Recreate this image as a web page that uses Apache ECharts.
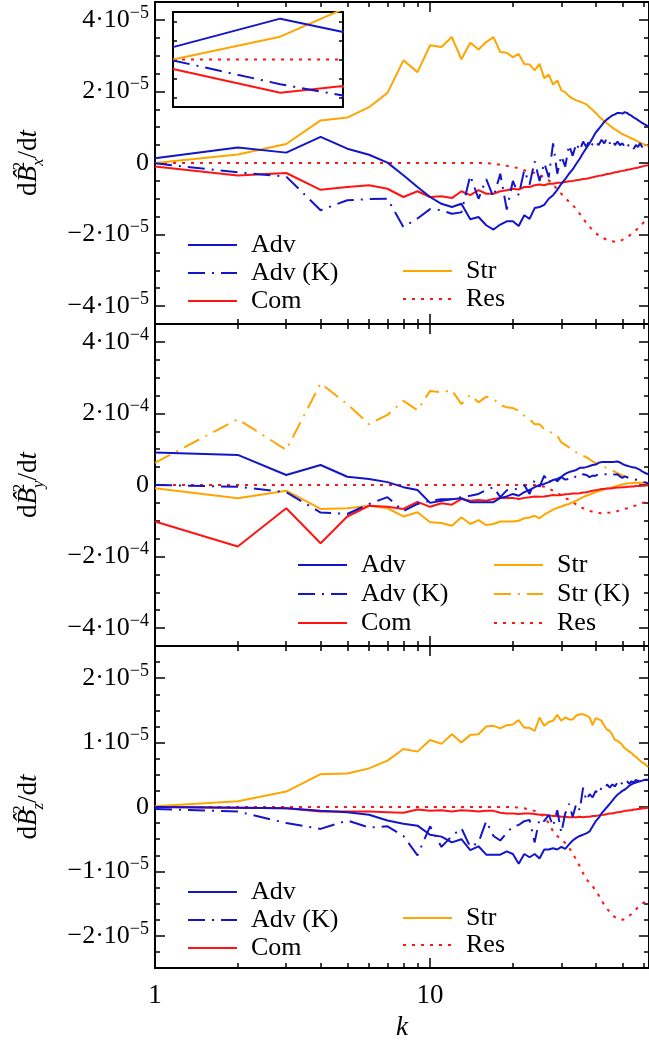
<!DOCTYPE html>
<html>
<head>
<meta charset="utf-8">
<script src="https://cdn.jsdelivr.net/npm/echarts@6/dist/echarts.min.js"></script>
<style>
  html, body { margin: 0; padding: 0; background: #fff; }
  #chart { width: 649px; height: 1042px; }
</style>
</head>
<body>
<div id="chart"></div>
<script>
// wavenumber k = 1..62
const K = [1, 2, 3, 4, 5, 6, 7, 8, 9, 10, 11, 12, 13, 14, 15, 16, 17, 18, 19, 20,
  21, 22, 23, 24, 25, 26, 27, 28, 29, 30, 31, 32, 33, 34, 35, 36, 37, 38, 39, 40,
  41, 42, 43, 44, 45, 46, 47, 48, 49, 50, 51, 52, 53, 54, 55, 56, 57, 58, 59, 60, 61, 62];

// panel x, units of 1e-5
const advX = [0.13, 0.43, 0.29, 0.73, 0.40, 0.23, 0.01, -0.34, -0.67, -0.95, -1.14, -1.23, -1.14, -1.57, -1.51, -1.74, -1.86, -1.72, -1.63, -1.63,
  -1.76, -1.46, -1.56, -1.26, -1.23, -1.17, -1.00, -0.90, -0.75, -0.58, -0.45, -0.30, -0.18, -0.02, 0.12, 0.28, 0.42, 0.55, 0.70, 0.85,
  0.95, 1.05, 1.15, 1.22, 1.28, 1.33, 1.36, 1.40, 1.40, 1.38, 1.42, 1.40, 1.35, 1.32, 1.27, 1.24, 1.20, 1.16, 1.12, 1.09, 1.06, 1.03];
const advKX = [-0.01, -0.26, -0.38, -1.32, -1.04, -1.01, -1.00, -1.79, -1.55, -1.29, -1.32, -1.42, -1.38, -0.35, -1.00, -0.45, -0.95, -0.30, -1.30, -0.50,
  -0.90, -0.20, -0.60, 0.05, -0.50, 0.00, -0.40, 0.55, -0.30, 0.20, -0.10, 0.50, 0.20, 0.55, 0.35, 0.60, 0.45, 0.65, 0.50, 0.60,
  0.50, 0.65, 0.55, 0.70, 0.55, 0.65, 0.50, 0.60, 0.50, 0.55, 0.45, 0.55, 0.45, 0.50, 0.40, 0.50, 0.45, 0.55, 0.45, 0.50, 0.45, 0.50];
const comX = [-0.10, -0.35, -0.28, -0.75, -0.67, -0.62, -0.72, -0.95, -0.79, -0.95, -0.93, -0.98, -0.79, -0.90, -0.76, -0.86, -0.86, -0.79, -0.76, -0.72,
  -0.74, -0.67, -0.67, -0.62, -0.60, -0.62, -0.58, -0.58, -0.55, -0.55, -0.53, -0.51, -0.50, -0.48, -0.47, -0.45, -0.44, -0.42, -0.40, -0.38,
  -0.36, -0.35, -0.33, -0.31, -0.30, -0.28, -0.26, -0.25, -0.23, -0.22, -0.21, -0.19, -0.18, -0.17, -0.15, -0.14, -0.13, -0.11, -0.10, -0.08, -0.07, -0.06];
const strX = [0.00, 0.24, 0.53, 1.19, 1.27, 1.56, 1.96, 2.87, 2.54, 3.29, 3.24, 3.52, 2.90, 3.36, 3.17, 3.38, 3.52, 3.10, 3.08, 2.96,
  3.05, 2.77, 2.75, 2.59, 2.77, 2.37, 2.47, 2.19, 2.31, 2.03, 1.98, 1.87, 1.80, 1.75, 1.72, 1.68, 1.64, 1.56, 1.48, 1.40,
  1.31, 1.24, 1.17, 1.11, 1.05, 0.99, 0.94, 0.90, 0.85, 0.81, 0.78, 0.75, 0.72, 0.69, 0.66, 0.63, 0.60, 0.57, 0.54, 0.52, 0.50, 0.48];
const resX = [0, 0, 0, 0, 0, 0, 0, 0, 0, 0, 0, 0, 0, 0, 0, 0, -0.02, -0.05, -0.08, -0.11,
  -0.15, -0.20, -0.24, -0.28, -0.33, -0.40, -0.48, -0.60, -0.74, -0.86, -0.98, -1.08, -1.17, -1.30, -1.42, -1.55, -1.68, -1.78, -1.88, -1.96,
  -2.02, -2.07, -2.11, -2.15, -2.17, -2.19, -2.20, -2.20, -2.18, -2.15, -2.11, -2.07, -2.03, -1.98, -1.93, -1.88, -1.83, -1.77, -1.71, -1.65, -1.60, -1.55];

// panel y, units of 1e-4
const advY = [0.91, 0.84, 0.28, 0.56, 0.23, 0.17, 0.08, -0.06, -0.14, -0.50, -0.44, -0.40, -0.37, -0.48, -0.48, -0.48, -0.48, -0.36, -0.32, -0.25,
  -0.30, -0.20, -0.14, -0.06, 0.00, 0.03, 0.08, 0.14, 0.17, 0.23, 0.31, 0.36, 0.39, 0.42, 0.48, 0.48, 0.50, 0.53, 0.56, 0.57,
  0.62, 0.64, 0.64, 0.64, 0.64, 0.64, 0.65, 0.66, 0.63, 0.59, 0.56, 0.54, 0.52, 0.50, 0.49, 0.48, 0.45, 0.42, 0.38, 0.35, 0.32, 0.30];
const advKY = [0.00, -0.05, -0.20, -0.77, -0.81, -0.53, -0.34, -0.73, -0.53, -0.44, -0.40, -0.39, -0.34, -0.30, -0.25, -0.14, -0.06, -0.34, -0.15, -0.14,
  -0.09, 0.00, -0.25, 0.14, -0.05, 0.26, 0.05, 0.22, 0.10, 0.22, 0.15, 0.17, 0.25, 0.22, 0.22, 0.30, 0.28, 0.22, 0.26, 0.26,
  0.30, 0.32, 0.30, 0.30, 0.28, 0.31, 0.29, 0.30, 0.24, 0.20, 0.24, 0.22, 0.18, 0.17, 0.16, 0.15, 0.13, 0.12, 0.10, 0.08, 0.06, 0.05];
const comY = [-1.02, -1.72, -0.65, -1.63, -0.88, -0.58, -0.61, -0.67, -0.47, -0.61, -0.51, -0.55, -0.39, -0.44, -0.42, -0.44, -0.39, -0.36, -0.36, -0.36,
  -0.39, -0.36, -0.34, -0.32, -0.33, -0.32, -0.30, -0.28, -0.29, -0.28, -0.26, -0.25, -0.24, -0.24, -0.23, -0.21, -0.20, -0.18, -0.16, -0.15,
  -0.13, -0.11, -0.11, -0.10, -0.10, -0.09, -0.08, -0.07, -0.07, -0.06, -0.06, -0.05, -0.05, -0.04, -0.04, -0.03, -0.03, -0.03, -0.02, -0.02, -0.01, -0.01];
const strY = [-0.09, -0.37, -0.16, -0.67, -0.65, -0.58, -0.65, -0.88, -0.76, -1.04, -1.06, -1.14, -0.90, -1.09, -0.98, -1.12, -1.09, -1.02, -1.02, -1.02,
  -1.00, -0.93, -0.91, -0.86, -0.93, -0.83, -0.76, -0.69, -0.64, -0.60, -0.56, -0.53, -0.48, -0.44, -0.39, -0.34, -0.30, -0.27, -0.23, -0.20,
  -0.17, -0.15, -0.12, -0.10, -0.08, -0.06, -0.04, -0.02, 0.00, 0.02, 0.03, 0.04, 0.05, 0.05, 0.06, 0.06, 0.06, 0.06, 0.06, 0.06, 0.05, 0.05];
const strKY = [0.62, 1.84, 0.98, 2.84, 2.26, 1.70, 1.96, 2.35, 2.09, 2.63, 2.59, 2.65, 2.26, 2.52, 2.31, 2.47, 2.40, 2.24, 2.17, 2.15,
  2.08, 1.94, 1.84, 1.70, 1.70, 1.56, 1.52, 1.42, 1.38, 1.19, 1.12, 1.05, 0.98, 0.91, 0.86, 0.82, 0.77, 0.72, 0.66, 0.61,
  0.58, 0.54, 0.50, 0.47, 0.43, 0.40, 0.37, 0.33, 0.30, 0.26, 0.24, 0.22, 0.20, 0.18, 0.17, 0.15, 0.13, 0.11, 0.10, 0.08, 0.06, 0.05];
const resY = [0, 0, 0, 0, 0, 0, 0, 0, 0, 0, 0, 0, 0, 0, 0, 0, 0, 0, 0, 0,
  0, 0, 0, 0, -0.02, -0.05, -0.10, -0.16, -0.22, -0.29, -0.36, -0.42, -0.48, -0.54, -0.60, -0.65, -0.69, -0.72, -0.75, -0.77,
  -0.78, -0.79, -0.79, -0.78, -0.77, -0.76, -0.75, -0.73, -0.71, -0.69, -0.67, -0.65, -0.63, -0.61, -0.59, -0.57, -0.55, -0.53, -0.51, -0.49, -0.47, -0.45];

// panel z, units of 1e-5
const advZ = [0.00, -0.01, -0.02, -0.06, -0.08, -0.12, -0.21, -0.26, -0.29, -0.43, -0.46, -0.55, -0.50, -0.67, -0.61, -0.74, -0.74, -0.74, -0.69, -0.73,
  -0.88, -0.73, -0.78, -0.73, -0.80, -0.66, -0.66, -0.64, -0.66, -0.62, -0.65, -0.58, -0.52, -0.48, -0.45, -0.43, -0.41, -0.38, -0.30, -0.22,
  -0.17, -0.10, -0.05, 0.00, 0.05, 0.10, 0.15, 0.19, 0.22, 0.25, 0.27, 0.30, 0.33, 0.35, 0.37, 0.38, 0.39, 0.40, 0.41, 0.42, 0.42, 0.42];
const advKZ = [-0.03, -0.07, -0.25, -0.34, -0.21, -0.32, -0.30, -0.45, -0.75, -0.30, -0.62, -0.45, -0.33, -0.62, -0.55, -0.22, -0.45, -0.52, -0.40, -0.30,
  -0.28, -0.22, -0.20, -0.55, -0.18, -0.22, -0.12, -0.30, -0.05, -0.40, -0.10, 0.05, -0.15, 0.05, -0.05, 0.30, 0.10, 0.20, 0.15, 0.25,
  0.20, 0.30, 0.28, 0.35, 0.30, 0.35, 0.32, 0.38, 0.33, 0.38, 0.35, 0.40, 0.36, 0.40, 0.38, 0.42, 0.40, 0.42, 0.40, 0.43, 0.41, 0.42];
const comZ = [0.00, -0.01, -0.02, -0.07, -0.07, -0.07, -0.08, -0.09, -0.04, -0.06, -0.05, -0.07, -0.05, -0.06, -0.07, -0.06, -0.06, -0.09, -0.10, -0.10,
  -0.11, -0.10, -0.10, -0.11, -0.12, -0.12, -0.13, -0.14, -0.14, -0.15, -0.15, -0.16, -0.16, -0.16, -0.15, -0.16, -0.15, -0.15, -0.14, -0.14,
  -0.13, -0.12, -0.12, -0.11, -0.10, -0.10, -0.09, -0.08, -0.08, -0.07, -0.06, -0.06, -0.05, -0.05, -0.04, -0.04, -0.03, -0.03, -0.02, -0.02, -0.01, -0.01];
const strZ = [0.01, 0.09, 0.24, 0.51, 0.52, 0.60, 0.72, 0.90, 0.86, 1.04, 0.98, 1.13, 1.00, 1.12, 1.13, 1.25, 1.26, 1.22, 1.27, 1.28,
  1.35, 1.23, 1.23, 1.18, 1.39, 1.26, 1.32, 1.34, 1.43, 1.34, 1.39, 1.36, 1.36, 1.42, 1.44, 1.44, 1.42, 1.39, 1.27, 1.38,
  1.36, 1.34, 1.26, 1.20, 1.18, 1.12, 1.04, 1.03, 1.00, 0.96, 0.91, 0.89, 0.86, 0.84, 0.80, 0.78, 0.75, 0.72, 0.69, 0.68, 0.65, 0.62];
const resZ = [0, 0, 0, 0, 0, 0, 0, 0, 0, 0, 0, 0, 0, 0, 0, 0, 0, 0, 0, 0,
  -0.01, -0.02, -0.04, -0.06, -0.10, -0.15, -0.25, -0.38, -0.45, -0.50, -0.56, -0.63, -0.72, -0.82, -0.92, -1.03, -1.12, -1.18, -1.23, -1.30,
  -1.37, -1.45, -1.52, -1.58, -1.63, -1.68, -1.71, -1.73, -1.74, -1.75, -1.74, -1.72, -1.69, -1.66, -1.62, -1.59, -1.56, -1.53, -1.50, -1.48, -1.45, -1.42];

// tick positions
const kMinor = [2, 3, 4, 5, 6, 7, 8, 9, 20, 30, 40, 50, 60];
const kMajor = [10];
const kLabels = [1, 10];
const yMajor45 = [-4, -2, 0, 2, 4];
const yMinor45 = [-3.5, -3, -2.5, -1.5, -1, -0.5, 0.5, 1, 1.5, 2.5, 3, 3.5];
const yMajor25 = [-2, -1, 0, 1, 2];
const yMinor25 = [-2.25, -1.75, -1.5, -1.25, -0.75, -0.5, -0.25, 0.25, 0.5, 0.75, 1.25, 1.5, 1.75, 2.25];
const insetTicks = [-0.4, -0.2, 0, 0.2, 0.4];

const FONT = '"Liberation Serif", "DejaVu Serif", serif';
const BLUE = '#1414c8';
const RED = '#ff1414';
const ORANGE = '#ffa500';
const DASHDOT = [17, 7, 2, 7];
const STYLES = {
  'Adv': { color: BLUE, type: 'solid' },
  'Adv (K)': { color: BLUE, type: DASHDOT },
  'Com': { color: RED, type: 'solid' },
  'Str': { color: ORANGE, type: 'solid' },
  'Str (K)': { color: ORANGE, type: DASHDOT },
  'Res': { color: RED, type: [3, 6] },
};

const chart = echarts.init(document.getElementById('chart'), null, { renderer: 'canvas' });

const PANEL_TOP = [2, 324, 646];
const PANEL_H = 322;
const LEFT = 155;
const WIDTH = 494;
const KMAX = 62.5;

const grids = PANEL_TOP.map(top => ({ left: LEFT, top: top, width: WIDTH, height: PANEL_H }));
grids.push({ left: 173, top: 12, width: 170, height: 95, show: true, backgroundColor: '#fff', borderWidth: 0, z: 5 });

const spine = { show: true, onZero: false, lineStyle: { color: '#000', width: 2 } };

function xAxisSet(g, labels) {
  const base = {
    type: 'log', logBase: 10, min: 1, max: KMAX, gridIndex: g,
    splitLine: { show: false }, axisLine: spine, axisLabel: { show: false },
  };
  const out = [];
  ['bottom', 'top'].forEach(pos => {
    out.push(Object.assign({}, base, {
      position: pos,
      axisTick: { show: true, inside: true, length: 5, customValues: kMinor, lineStyle: { color: '#000', width: 1.5 } },
    }));
    const major = Object.assign({}, base, {
      position: pos,
      axisTick: { show: true, inside: true, length: 10, customValues: kMajor, lineStyle: { color: '#000', width: 1.5 } },
    });
    if (labels && pos === 'bottom') {
      major.axisLabel = { show: true, customValues: kLabels, fontFamily: FONT, fontSize: 27, color: '#000', margin: 14 };
      major.name = 'k';
      major.nameLocation = 'middle';
      major.nameGap = 46;
      major.nameTextStyle = { fontFamily: FONT, fontSize: 27, fontStyle: 'italic', color: '#000' };
    }
    out.push(major);
  });
  return out;
}

function sciFormatter(exp) {
  return v => {
    if (v === 0) return '{b|0}';
    const sign = v < 0 ? '\u2212' : '';
    return '{b|' + sign + Math.abs(v) + '\u00b710}{s|\u2212' + exp + '}';
  };
}

const labelRich = {
  b: { fontFamily: FONT, fontSize: 26, lineHeight: 32, color: '#000' },
  s: { fontFamily: FONT, fontSize: 18, lineHeight: 18, verticalAlign: 'top', color: '#000' },
};

const nameRich = {
  r: { fontFamily: FONT, fontSize: 27, lineHeight: 36, color: '#000' },
  i: { fontFamily: FONT, fontSize: 27, lineHeight: 36, fontStyle: 'italic', color: '#000' },
  sup: { fontFamily: FONT, fontSize: 17, lineHeight: 17, verticalAlign: 'top', width: 0, color: '#000' },
  sub: { fontFamily: FONT, fontSize: 17, lineHeight: 17, verticalAlign: 'bottom', fontStyle: 'italic', color: '#000' },
};

function yAxisSet(g, range, majors, minors, exp, comp) {
  const base = {
    type: 'value', min: -range, max: range, gridIndex: g,
    splitLine: { show: false }, axisLine: spine, axisLabel: { show: false },
  };
  const tick = (vals, len) => ({ show: true, inside: true, length: len, customValues: vals, lineStyle: { color: '#000', width: 1.5 } });
  return [
    Object.assign({}, base, {
      position: 'left', axisTick: tick(majors, 10),
      axisLabel: { show: true, customValues: majors, formatter: sciFormatter(exp), rich: labelRich, margin: 6 },
      name: '{r|d}{i|B\u0302}{sup|2}{sub|' + comp + '}{r|/d}{i|t}',
      nameLocation: 'middle', nameGap: 108, nameRotate: 90,
      nameTextStyle: { rich: nameRich },
    }),
    Object.assign({}, base, { position: 'left', axisTick: tick(minors, 5) }),
    Object.assign({}, base, { position: 'right', axisTick: tick(majors, 10) }),
    Object.assign({}, base, { position: 'right', axisTick: tick(minors, 5) }),
  ];
}

const xAxes = [].concat(xAxisSet(0, false), xAxisSet(1, false), xAxisSet(2, true));
const yAxes = [].concat(
  yAxisSet(0, 4.5, yMajor45, yMinor45, 5, 'x'),
  yAxisSet(1, 4.5, yMajor45, yMinor45, 4, 'y'),
  yAxisSet(2, 2.5, yMajor25, yMinor25, 5, 'z')
);

// inset axes (index 12/13 for x, 12/13 for y)
['bottom', 'top'].forEach(pos => {
  xAxes.push({ type: 'log', logBase: 10, min: 1, max: 3, gridIndex: 3, position: pos, z: 6,
    axisLine: spine, axisTick: { show: false }, axisLabel: { show: false }, splitLine: { show: false } });
});
['left', 'right'].forEach(pos => {
  yAxes.push({ type: 'value', min: -0.5, max: 0.5, gridIndex: 3, position: pos, z: 6,
    axisLine: spine, axisLabel: { show: false }, splitLine: { show: false },
    axisTick: { show: true, inside: true, length: 4, customValues: insetTicks, lineStyle: { color: '#000', width: 1.5 } } });
});

function line(name, values, xi, yi, z) {
  const st = STYLES[name];
  return {
    type: 'line', name: name, xAxisIndex: xi, yAxisIndex: yi,
    data: values.map((v, i) => [K[i], v]),
    symbol: 'none', showSymbol: false, silent: true, z: z || 2,
    itemStyle: { color: st.color },
    lineStyle: { color: st.color, width: 2, type: st.type },
  };
}

const panels = [
  [['Res', resX], ['Str', strX], ['Com', comX], ['Adv (K)', advKX], ['Adv', advX]],
  [['Res', resY], ['Str (K)', strKY], ['Str', strY], ['Com', comY], ['Adv (K)', advKY], ['Adv', advY]],
  [['Res', resZ], ['Str', strZ], ['Com', comZ], ['Adv (K)', advKZ], ['Adv', advZ]],
];

const series = [];
panels.forEach((list, g) => {
  list.forEach(([name, vals]) => series.push(line(name, vals, g * 4, g * 4)));
});
// inset: zoom on panel x, k = 1..3
panels[0].forEach(([name, vals]) => series.push(line(name, vals, 12, 12, 7)));

function legend(names, left, top, gap) {
  return {
    data: names, left: left, top: top, orient: 'vertical',
    itemWidth: 49, itemHeight: 12, itemGap: gap, selectedMode: false,
    itemStyle: { opacity: 0 },
    textStyle: { fontFamily: FONT, fontSize: 26, lineHeight: 26, color: '#000', padding: [0, 0, 0, 9] },
  };
}

chart.setOption({
  backgroundColor: '#fff',
  animation: false,
  grid: grids,
  xAxis: xAxes,
  yAxis: yAxes,
  legend: [
    legend(['Adv', 'Adv (K)', 'Com'], 182, 227, 2),
    legend(['Str', 'Res'], 397, 253, 2),
    legend(['Adv', 'Adv (K)', 'Com'], 292, 547, 3),
    legend(['Str', 'Str (K)', 'Res'], 488, 547, 3),
    legend(['Adv', 'Adv (K)', 'Com'], 182, 874, 2),
    legend(['Str', 'Res'], 397, 900, 1),
  ],
  series: series,
});
</script>
</body>
</html>
